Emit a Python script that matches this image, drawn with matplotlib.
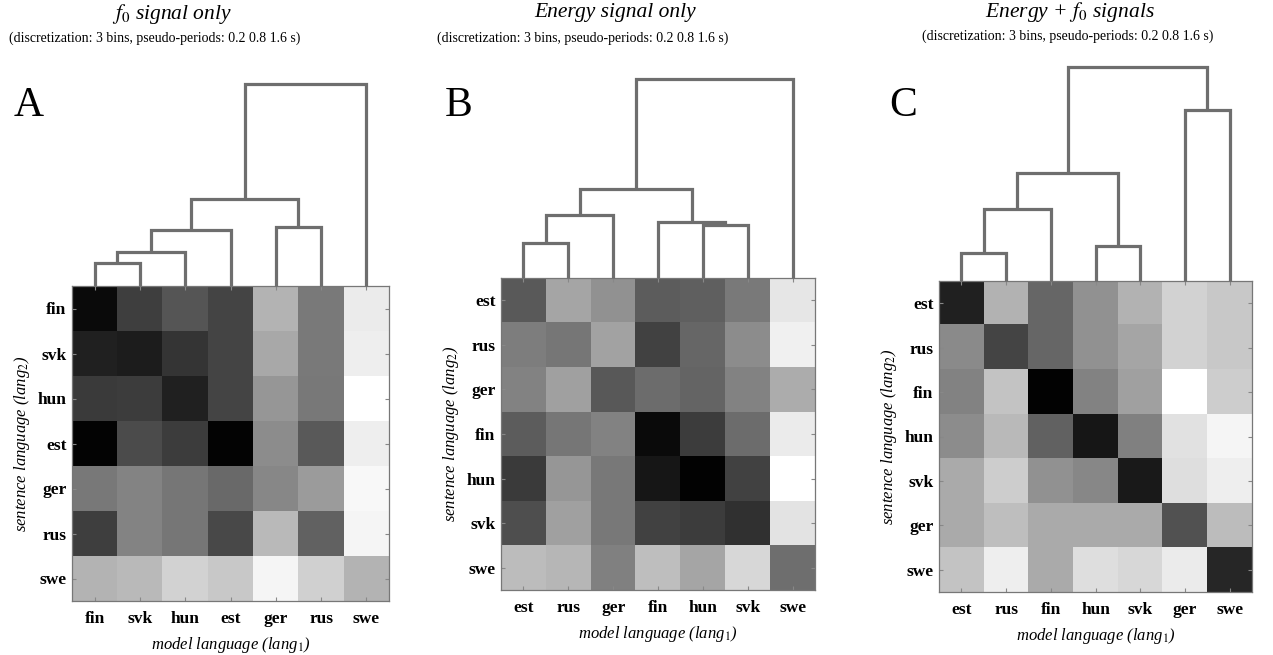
import numpy as np
import matplotlib
matplotlib.use("Agg")
import matplotlib.pyplot as plt

plt.rcParams['mathtext.fontset'] = 'stix'
SERIF = 'Liberation Serif'

# ---------------- data ----------------
labels_A = ["fin", "svk", "hun", "est", "ger", "rus", "swe"]
labels_B = ["est", "rus", "ger", "fin", "hun", "svk", "swe"]
labels_C = ["est", "rus", "fin", "hun", "svk", "ger", "swe"]

# gray level of each cell (0 = black, 255 = white); rows = sentence language, cols = model language
gray_A = [
    [10, 62, 85, 68, 180, 122, 235],
    [32, 28, 52, 68, 168, 122, 238],
    [58, 60, 33, 68, 150, 120, 255],
    [3, 75, 60, 3, 140, 90, 238],
    [120, 132, 118, 105, 135, 155, 248],
    [62, 132, 118, 72, 185, 98, 245],
    [180, 185, 210, 200, 245, 208, 180],
]
gray_B = [
    [90, 165, 145, 92, 95, 122, 230],
    [125, 118, 162, 65, 102, 140, 240],
    [130, 160, 88, 108, 100, 130, 172],
    [92, 118, 130, 10, 60, 108, 235],
    [58, 150, 120, 22, 2, 65, 255],
    [78, 160, 120, 65, 60, 48, 228],
    [188, 182, 128, 190, 165, 215, 110],
]
gray_C = [
    [33, 178, 102, 145, 178, 210, 200],
    [138, 68, 102, 145, 165, 210, 200],
    [130, 195, 2, 130, 160, 255, 205],
    [140, 185, 98, 22, 128, 225, 245],
    [170, 205, 145, 135, 25, 222, 238],
    [170, 190, 170, 170, 170, 82, 188],
    [195, 238, 170, 222, 215, 235, 38],
]

# dendrogram merges: (child_a, child_b, height); children 0..6 are leaves, 7+ are earlier merges
link_A = [(0, 1, 0.23), (7, 2, 0.34), (8, 3, 0.56), (4, 5, 0.59), (9, 10, 0.87), (11, 6, 2.02)]
link_B = [(0, 1, 0.35), (7, 2, 0.63), (4, 5, 0.53), (3, 9, 0.56), (8, 10, 0.89), (11, 6, 1.99)]
link_C = [(0, 1, 0.28), (7, 2, 0.72), (3, 4, 0.35), (8, 9, 1.08), (5, 6, 1.71), (10, 11, 2.14)]

titles = [r"$f_0$ signal only", "Energy signal only", r"Energy + $f_0$ signals"]
subtitle = "(discretization: 3 bins, pseudo-periods: 0.2 0.8 1.6 s)"
panel_letters = ["A", "B", "C"]

# ---------------- layout ----------------
W, H = 1273, 655
fig = plt.figure(figsize=(W / 100, H / 100), dpi=100)

def fbox(x0, y0, x1, y1):
    return [x0 / W, 1 - y1 / H, (x1 - x0) / W, (y1 - y0) / H]

heat_boxes = [(72, 286, 389, 601), (501, 278, 815, 590), (939, 281, 1252, 592)]
title_x = [172, 615, 1070]
sub_x = [155, 583, 1068]
title_y = [14, 13, 12]
sub_y = [38, 38, 36]
letter_pos = [(29, 106), (459, 106), (903, 106)]

line_col = "#6e6e6e"
DSCALE = 100.0  # px per distance unit

for k, (labels, gray, link) in enumerate([(labels_A, gray_A, link_A),
                                            (labels_B, gray_B, link_B),
                                            (labels_C, gray_C, link_C)]):
    x0, y0, x1, y1 = heat_boxes[k]
    ax = fig.add_axes(fbox(x0, y0, x1, y1))
    ax.imshow(np.array(gray, dtype=float), cmap="gray", vmin=0, vmax=255,
              aspect="auto", interpolation="nearest")
    n = len(labels)
    ax.set_xticks(range(n))
    ax.set_yticks(range(n))
    ax.set_xticklabels(labels, fontfamily=SERIF, fontweight="bold", fontsize=12.5)
    ax.set_yticklabels(labels, fontfamily=SERIF, fontweight="bold", fontsize=12.5)
    ax.tick_params(direction="in", length=3, width=0.8, color="#888888",
                   top=True, right=True, bottom=True, left=True)
    ax.tick_params(axis="x", pad=7)
    ax.tick_params(axis="y", pad=4)
    for sp in ax.spines.values():
        sp.set_color("#777777")
        sp.set_linewidth(0.9)
    ax.set_xlabel(r"model language (lang$_\mathit{1}$)", fontfamily=SERIF,
                  style="italic", fontsize=12, labelpad=6)
    ax.set_ylabel(r"sentence language (lang$_\mathit{2}$)", fontfamily=SERIF,
                  style="italic", fontsize=12, labelpad=4)

    # dendrogram
    dtop = 40
    dax = fig.add_axes(fbox(x0, dtop, x1, y0))
    dax.set_xlim(-0.5, n - 0.5)
    dax.set_ylim(0, (y0 - dtop) / DSCALE)
    dax.axis("off")
    xpos = {i: float(i) for i in range(n)}
    hpos = {i: 0.0 for i in range(n)}
    for m, (a, b, h) in enumerate(link):
        node = n + m
        dax.plot([xpos[a], xpos[a], xpos[b], xpos[b]],
                 [hpos[a], h, h, hpos[b]], color=line_col, lw=2.3,
                 solid_joinstyle="miter", solid_capstyle="butt", clip_on=False)
        xpos[node] = (xpos[a] + xpos[b]) / 2
        hpos[node] = h

    fig.text(title_x[k] / W, 1 - title_y[k] / H, titles[k], fontfamily=SERIF,
             style="italic", fontsize=15.5, ha="center", va="center")
    fig.text(sub_x[k] / W, 1 - sub_y[k] / H, subtitle, fontfamily=SERIF,
             fontsize=10, ha="center", va="center")
    lx, ly = letter_pos[k]
    fig.text(lx / W, 1 - ly / H, panel_letters[k], fontfamily=SERIF,
             fontsize=30, ha="center", va="center")

fig.savefig("out.png", dpi=100)
